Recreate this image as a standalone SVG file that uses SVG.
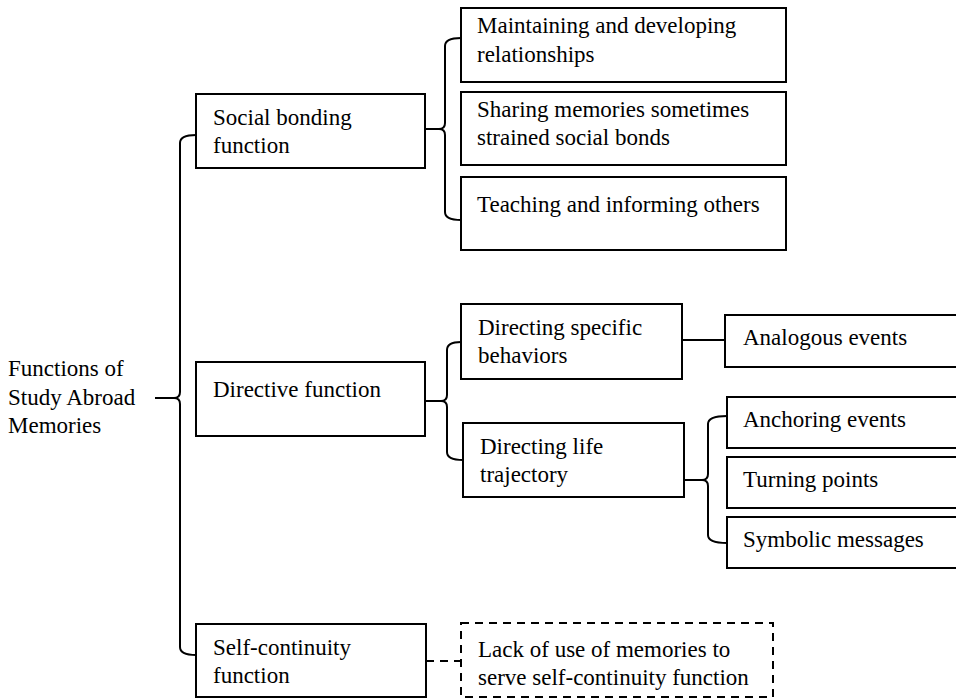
<svg xmlns="http://www.w3.org/2000/svg" width="956" height="699" viewBox="0 0 956 699">
<style>
.box{fill:#fff;stroke:#000;stroke-width:2}
.dash{fill:#fff;stroke:#000;stroke-width:2;stroke-dasharray:8,6}
.ln{fill:none;stroke:#000;stroke-width:2}
.dln{fill:none;stroke:#000;stroke-width:2;stroke-dasharray:8,6}
text{font-family:"Liberation Serif","Times New Roman",serif;font-size:23px;fill:#000}
</style>
<rect width="956" height="699" fill="#fff"/>
<g id="connectors">
<path class="ln" d="M155,398 L174,398"/>
<path class="ln" d="M196,135 Q180,135 180,143 L180,392 Q180,398 174,398 Q180,398 180,404 L180,647 Q180,655 196,655"/>
<path class="ln" d="M419,129 L439,129"/>
<path class="ln" d="M461,38 Q445,38 445,46 L445,123 Q445,129 439,129 Q445,129 445,135 L445,212 Q445,220 461,220"/>
<path class="ln" d="M425,401 L441,401"/>
<path class="ln" d="M461,342 Q447,342 447,350 L447,395 Q447,401 441,401 Q447,401 447,407 L447,452 Q447,460 463,460"/>
<path class="ln" d="M682,340 L725,340"/>
<path class="ln" d="M684,480 L702,480"/>
<path class="ln" d="M727,416 Q708,416 708,424 L708,474 Q708,480 702,480 Q708,480 708,486 L708,535 Q708,543 727,543"/>
<path class="dln" d="M426,661 L461,661"/>
</g>
<g id="root"><text x="8" y="376">Functions of</text><text x="8" y="405">Study Abroad</text><text x="8" y="433">Memories</text></g>
<g id="social"><rect class="box" x="196" y="94" width="229" height="74"/><text x="213" y="125">Social bonding</text><text x="213" y="153">function</text></g>
<g id="directive"><rect class="box" x="196" y="362" width="229" height="74"/><text x="213" y="397">Directive function</text></g>
<g id="selfcont"><rect class="box" x="196" y="624" width="230" height="73"/><text x="213" y="655">Self-continuity</text><text x="213" y="683">function</text></g>
<g id="maintaining"><rect class="box" x="461" y="8" width="325" height="74"/><text x="477" y="33">Maintaining and developing</text><text x="477" y="62">relationships</text></g>
<g id="sharing"><rect class="box" x="461" y="92" width="325" height="73"/><text x="477" y="117">Sharing memories sometimes</text><text x="477" y="145">strained social bonds</text></g>
<g id="teaching"><rect class="box" x="461" y="177" width="325" height="73"/><text x="477" y="212">Teaching and informing others</text></g>
<g id="specific"><rect class="box" x="461" y="304" width="221" height="75"/><text x="478" y="335">Directing specific</text><text x="478" y="363">behaviors</text></g>
<g id="life"><rect class="box" x="463" y="423" width="221" height="74"/><text x="480" y="454">Directing life</text><text x="480" y="482">trajectory</text></g>
<g id="analogous"><rect class="box" x="725" y="315" width="235" height="52"/><text x="743" y="345">Analogous events</text></g>
<g id="anchoring"><rect class="box" x="727" y="397" width="233" height="51"/><text x="743" y="427">Anchoring events</text></g>
<g id="turning"><rect class="box" x="727" y="457" width="233" height="51"/><text x="743" y="487">Turning points</text></g>
<g id="symbolic"><rect class="box" x="727" y="517" width="233" height="51"/><text x="743" y="547">Symbolic messages</text></g>
<g id="lack"><rect class="dash" x="461" y="623" width="312" height="74"/><text x="478" y="657">Lack of use of memories to</text><text x="478" y="685">serve self-continuity function</text></g>
</svg>
